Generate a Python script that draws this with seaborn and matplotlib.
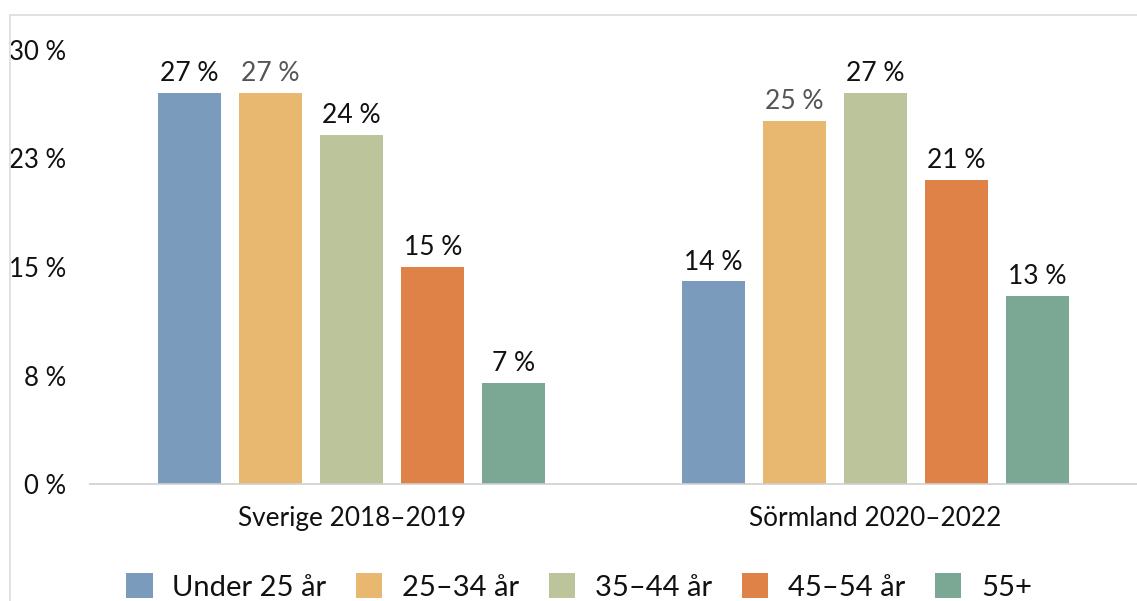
import numpy as np
import pandas as pd
import seaborn as sns
import matplotlib.pyplot as plt
from matplotlib.patches import Rectangle

sns.set_style('white')
plt.rcParams['font.family'] = ['Lato', 'DejaVu Sans']

# data
regions = ['Sverige 2018–2019', 'Sörmland 2020–2022']
age_groups = ['Under 25 år', '25–34 år', '35–44 år', '45–54 år', '55+']
sverige = [27.0, 27.0, 24.1, 15.0, 7.0]
sormland = [14.0, 25.1, 27.0, 21.0, 13.0]
ytick_vals = [0, 7.5, 15, 22.5, 30]
ytick_labels = ['0 %', '8 %', '15 %', '23 %', '30 %']
colors = ['#7a9bbb', '#e8b870', '#bcc49b', '#de8248', '#7ba795']

df = pd.DataFrame({
    'region': [regions[0]] * 5 + [regions[1]] * 5,
    'age': age_groups * 2,
    'share': sverige + sormland,
})

fig = plt.figure(figsize=(11.37, 6.01), dpi=100)
ax = fig.add_axes([90 / 1137, 117 / 601, 1047 / 1137, 434 / 601])

sns.barplot(data=df, x='region', y='share', hue='age', hue_order=age_groups,
            palette=colors, width=0.774, gap=0.22, saturation=1, ax=ax,
            legend=True, edgecolor='none')

ax.set_ylim(0, 30)
ax.set_xlim(-0.5, 1.5)
ax.set_yticks(ytick_vals)
ax.set_yticklabels(ytick_labels)
ax.set(xlabel='', ylabel='')
ax.tick_params(axis='y', length=0, pad=17, labelsize=18.5, labelcolor='#111111')
ax.tick_params(axis='x', length=0, pad=16, labelsize=18.8, labelcolor='#111111')

for s in ['top', 'right', 'left']:
    ax.spines[s].set_visible(False)
ax.spines['bottom'].set_color('#d0d0d0')
ax.spines['bottom'].set_linewidth(1.2)

for i, cont in enumerate(ax.containers):
    col = '#555555' if i == 1 else '#111111'
    labels = [f'{v:.0f} %' for v in cont.datavalues]
    ax.bar_label(cont, labels=labels, padding=5, fontsize=19, color=col, clip_on=False)

handles, labels = ax.get_legend_handles_labels()
ax.legend_.remove()
fig.legend(handles, labels, loc='center', bbox_to_anchor=(579 / 1137, 14 / 601),
           ncol=5, frameon=False, fontsize=21, handlelength=0.92, handleheight=0.92,
           columnspacing=1.0, handletextpad=0.68, labelcolor='#111111')

# light frame around the chart area
fig.add_artist(Rectangle((10 / 1137, -0.2), 1.2, 1.2 - 15 / 601,
                         transform=fig.transFigure, fill=False,
                         edgecolor='#dcdcdc', lw=1.2))

fig.savefig('out.png', dpi=100)
